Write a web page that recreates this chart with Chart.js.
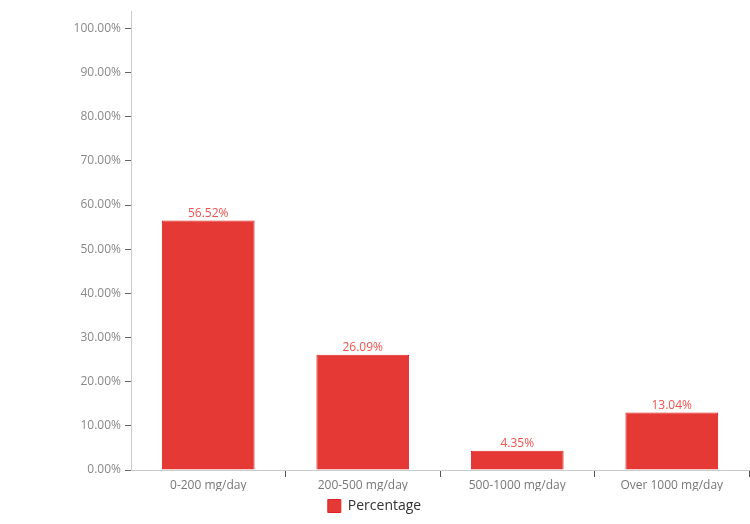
<!DOCTYPE html>
<html>
<head>
<meta charset="utf-8">
<script src="https://cdn.jsdelivr.net/npm/chart.js@4"></script>
<style>
  html, body { margin: 0; padding: 0; background: #fff; }
  #wrap { width: 750px; height: 524px; }
</style>
</head>
<body>
<div id="wrap"><canvas id="doseChart" width="750" height="524"></canvas></div>
<script>
// Chart data
const categories = ['0-200 mg/day', '200-500 mg/day', '500-1000 mg/day', 'Over 1000 mg/day'];
const percentages = [56.52, 26.09, 4.35, 13.04];
const seriesName = 'Percentage';

// draws the value above each bar
const valueLabels = {
    id: 'valueLabels',
    afterDatasetsDraw(chart) {
        const ctx = chart.ctx;
        const meta = chart.getDatasetMeta(0);
        ctx.save();
        ctx.fillStyle = '#ef5350';
        ctx.font = '12px "Open Sans", sans-serif';
        ctx.textAlign = 'center';
        ctx.textBaseline = 'bottom';
        meta.data.forEach((bar, i) => {
            ctx.fillText(percentages[i].toFixed(2) + '%', bar.x, bar.y - 1);
        });
        ctx.restore();
    }
};

Chart.defaults.font.family = '"Open Sans", sans-serif';
Chart.defaults.font.size = 12;

new Chart(document.getElementById('doseChart').getContext('2d'), {
    type: 'bar',
    data: {
        labels: categories,
        datasets: [{
            label: seriesName,
            data: percentages,
            backgroundColor: '#e53935',
            borderColor: '#e02424',
            borderWidth: 1,
            barPercentage: 0.6,
            categoryPercentage: 1
        }]
    },
    options: {
        responsive: false,
        animation: false,
        layout: { padding: { top: 5, right: 1, left: 0, bottom: 1 } },
        plugins: {
            legend: {
                position: 'bottom',
                labels: {
                    boxWidth: 13,
                    boxHeight: 13,
                    color: '#333',
                    font: { size: 14 },
                    padding: 8
                }
            },
            tooltip: { enabled: false }
        },
        scales: {
            x: {
                grid: {
                    display: true,
                    drawOnChartArea: false,
                    tickLength: 7,
                    color: (c) => (c.index === 0 || c.index === categories.length) ? 'rgba(0,0,0,0)' : '#555'
                },
                border: { color: '#ccc' },
                ticks: { color: '#777', padding: 1 },
                afterFit(scale) { scale.height = 21; }
            },
            y: {
                min: 0,
                max: 103.9,
                grid: {
                    drawOnChartArea: false,
                    tickLength: 6,
                    color: '#666'
                },
                border: { color: '#ccc' },
                ticks: {
                    stepSize: 10,
                    includeBounds: false,
                    color: '#888',
                    padding: 4,
                    callback: (v) => v.toFixed(2) + '%'
                },
                afterFit(scale) { scale.width = 131; }
            }
        }
    },
    plugins: [valueLabels]
});
</script>
</body>
</html>
